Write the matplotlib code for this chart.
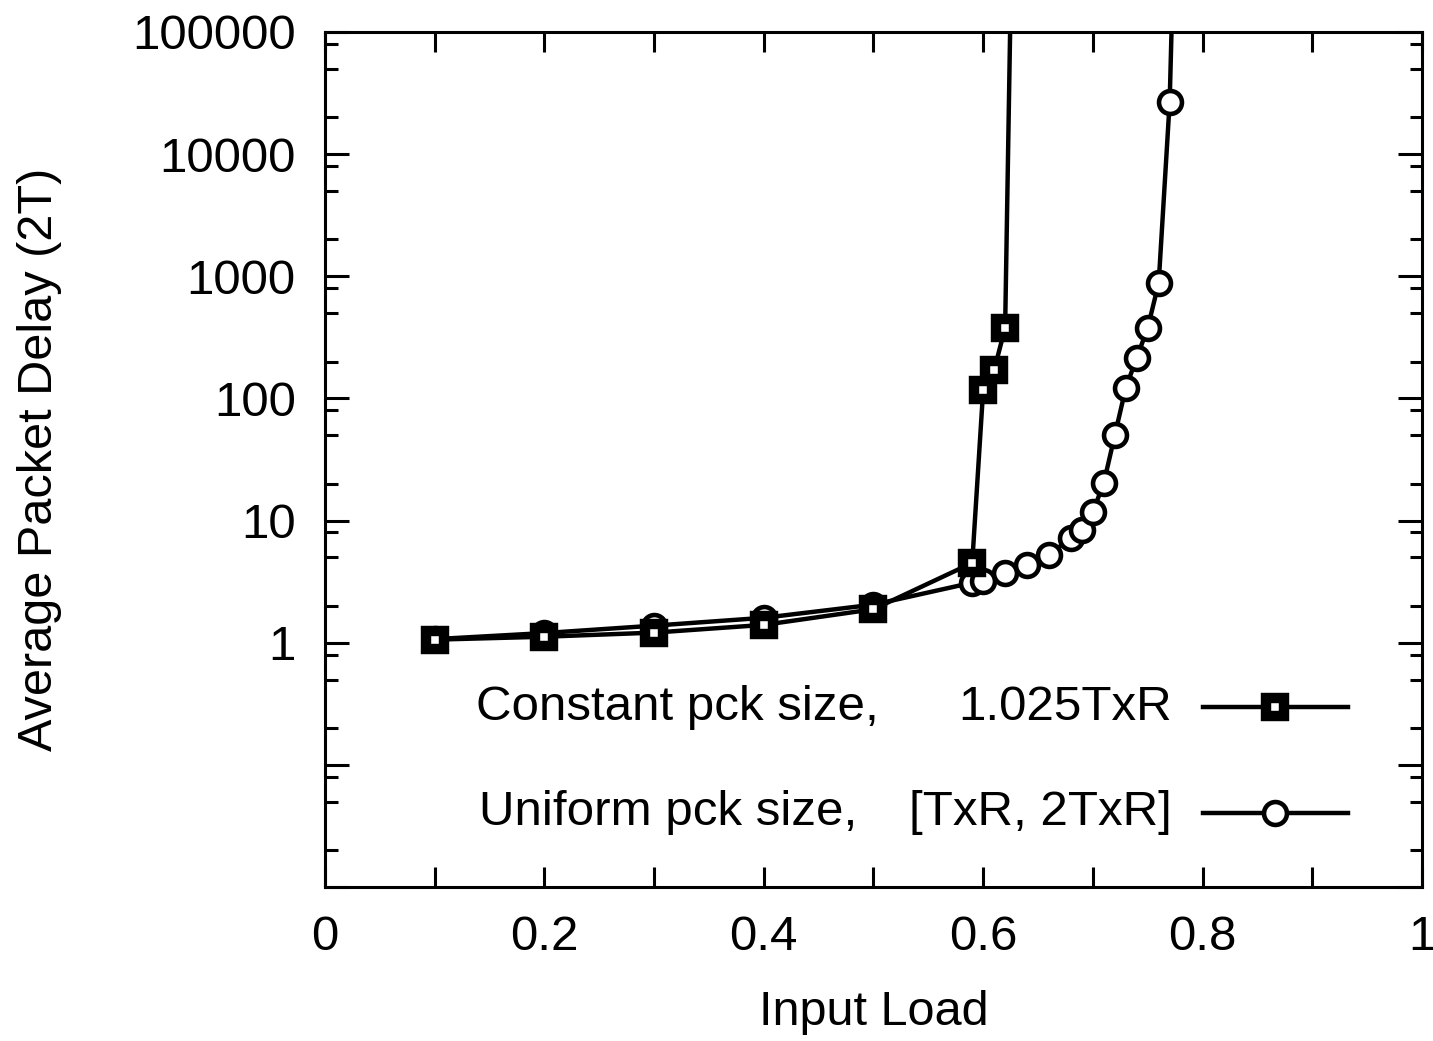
import matplotlib
matplotlib.use('Agg')
import matplotlib.pyplot as plt
from matplotlib.ticker import LogLocator, FixedLocator, NullFormatter, FuncFormatter

plt.rcParams['font.family'] = ['Liberation Sans', 'DejaVu Sans']

# dados
carga_const = [0.1, 0.2, 0.3, 0.4, 0.5, 0.59, 0.60, 0.61, 0.62, 0.63]
atraso_const = [1.06, 1.12, 1.21, 1.40, 1.88, 4.5, 118, 171, 378, 8e7]

carga_unif = [0.1, 0.2, 0.3, 0.4, 0.5, 0.59, 0.60, 0.62, 0.64, 0.66, 0.68,
              0.69, 0.70, 0.71, 0.72, 0.73, 0.74, 0.75, 0.76, 0.77, 0.78]
atraso_unif = [1.07, 1.20, 1.38, 1.60, 2.05, 3.1, 3.2, 3.7, 4.35, 5.25, 7.2,
               8.4, 11.8, 20.4, 50, 122, 215, 378, 883, 26700, 7e7]

legenda_esq = ['Constant pck size,', 'Uniform pck size,']
legenda_dir = ['1.025TxR', '[TxR, 2TxR]']

xticks = [0, 0.1, 0.2, 0.3, 0.4, 0.5, 0.6, 0.7, 0.8, 0.9, 1.0]

fig = plt.figure(figsize=(14.33, 10.41), dpi=100)
ax = fig.add_axes([0.2268, 0.1479, 0.7655, 0.8214])

estilo_q = dict(color='black', lw=3.2, marker='s', markersize=13.5,
                markerfacecolor='white', markeredgecolor='black', markeredgewidth=7.5)
estilo_c = dict(color='black', lw=3.2, marker='o', markersize=16.5,
                markerfacecolor='white', markeredgecolor='black', markeredgewidth=3.3)

ax.plot(carga_unif, atraso_unif, **estilo_c, zorder=2)
ax.plot(carga_const, atraso_const, **estilo_q, zorder=3)

ax.set_yscale('log')
ax.set_xlim(0, 1)
ax.set_ylim(0.01, 100000)

ax.xaxis.set_major_locator(FixedLocator(xticks))
ax.xaxis.set_major_formatter(FuncFormatter(
    lambda v, p: ('%g' % v) if round(v * 10) % 2 == 0 else ''))
ax.yaxis.set_major_locator(LogLocator(base=10, numticks=20))
ax.yaxis.set_minor_locator(LogLocator(base=10, subs=(2, 5, 8), numticks=20))
ax.yaxis.set_major_formatter(FuncFormatter(
    lambda v, p: '%d' % round(v) if v >= 1 else ''))
ax.yaxis.set_minor_formatter(NullFormatter())

ax.tick_params(axis='both', which='both', direction='in', top=True, right=True,
               width=2.2, labelsize=35.5, color='black')
ax.tick_params(axis='x', which='major', length=14.4, pad=20)
ax.tick_params(axis='y', which='major', length=17.5, pad=21)
ax.tick_params(axis='y', which='minor', length=9)
for s in ax.spines.values():
    s.set_linewidth(2.2)

ax.set_xlabel('Input Load', fontsize=35)
ax.set_ylabel('Average Packet Delay (2T)', fontsize=35)
ax.xaxis.set_label_coords(0.5, -0.12)
ax.yaxis.set_label_coords(-0.24, 0.5)

# legenda no estilo gnuplot
ylin = [0.2105, 0.0866]
for i, est in enumerate([estilo_q, estilo_c]):
    ax.text([0.1376, 0.1404][i], ylin[i], legenda_esq[i], transform=ax.transAxes,
            fontsize=35.5, ha='left', va='center')
    ax.text(0.772, ylin[i], legenda_dir[i], transform=ax.transAxes,
            fontsize=35.5, ha='right', va='center')
    ax.plot([0.800, 0.9325], [ylin[i], ylin[i]], transform=ax.transAxes,
            color='black', lw=3.2, clip_on=False)
    ax.plot([0.866], [ylin[i]], transform=ax.transAxes, linestyle='none',
            **{k: v for k, v in est.items() if k not in ('lw', 'color')})

fig.savefig('out.png', dpi=100)
